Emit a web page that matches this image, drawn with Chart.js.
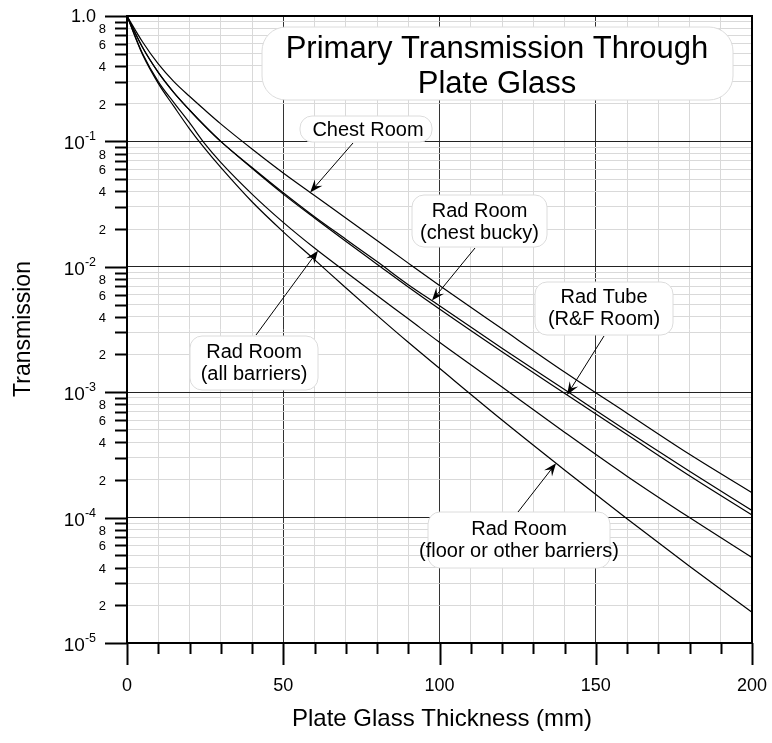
<!DOCTYPE html>
<html>
<head>
<meta charset="utf-8">
<title>Primary Transmission Through Plate Glass</title>
<script src="https://cdn.jsdelivr.net/npm/chart.js@4.4.1/dist/chart.umd.min.js"></script>
<style>
  html, body { margin: 0; padding: 0; background: #fff; }
  canvas { display: block; }
</style>
</head>
<body>
<canvas id="glassChart" width="772" height="743"></canvas>
<script>
// plate glass thickness (mm)
const thickness = [0, 5, 10, 15, 20, 25, 30, 40, 50, 60, 70, 80, 90, 100, 120, 140, 160, 180, 200];

// primary transmission per workload distribution
const chestRoom      = [1, 0.62, 0.415, 0.30, 0.229, 0.177, 0.138, 0.087, 0.056, 0.037, 0.0245, 0.0162, 0.0107, 0.0071, 0.0032, 0.00145, 0.00068, 0.00032, 0.000158];
const radChestBucky  = [1, 0.56, 0.355, 0.245, 0.178, 0.132, 0.100, 0.062, 0.039, 0.0251, 0.0166, 0.011, 0.0072, 0.0049, 0.00224, 0.00105, 0.00049, 0.000234, 0.000114];
const radTube        = [1, 0.56, 0.355, 0.245, 0.178, 0.132, 0.100, 0.061, 0.038, 0.0245, 0.016, 0.0105, 0.0069, 0.0046, 0.0021, 0.00098, 0.00046, 0.000216, 0.000105];
const radAllBarriers = [1, 0.50, 0.30, 0.204, 0.141, 0.095, 0.068, 0.038, 0.0226, 0.0141, 0.0091, 0.0059, 0.00385, 0.0025, 0.0011, 0.00048, 0.000214, 0.0001, 0.000048];
const radFloor       = [1, 0.49, 0.29, 0.19, 0.126, 0.087, 0.062, 0.033, 0.019, 0.0114, 0.0068, 0.0041, 0.0025, 0.00155, 0.0006, 0.00024, 0.000098, 0.000041, 0.0000176];

// axis ticks
const decadeTicks = [1, 1e-1, 1e-2, 1e-3, 1e-4, 1e-5];
const decadeLabels = ['1.0', '-1', '-2', '-3', '-4', '-5'];
const minorMantissas = [2, 3, 4, 5, 6, 7, 8, 9];
const minorLabels = [2, 4, 6, 8];
const xTickLabels = [0, 50, 100, 150, 200];

const FONT = '"Liberation Sans", Arial, Helvetica, sans-serif';

// every y grid value: decades plus 2..9 inside each decade
const yGridValues = [];
decadeTicks.forEach(d => {
  yGridValues.push(d);
  if (d < 1) minorMantissas.forEach(m => yGridValues.push(m * d));
});

function isDecade(v) {
  const l = Math.log10(v);
  return Math.abs(l - Math.round(l)) < 1e-9;
}

// transmission on a curve at a given thickness (log interpolation)
function valueAt(series, xv) {
  for (let i = 1; i < thickness.length; i++) {
    if (xv <= thickness[i]) {
      const t = (xv - thickness[i - 1]) / (thickness[i] - thickness[i - 1]);
      const a = Math.log10(series[i - 1]), b = Math.log10(series[i]);
      return Math.pow(10, a + t * (b - a));
    }
  }
  return series[series.length - 1];
}

// callout boxes: box [x0, y0, x1, y1], text centre x and first baseline, arrow start, arrow tip on a curve
const notes = [
  { lines: ['Chest Room'], box: [300, 116, 432, 142], tx: 368, ty: 135.5, from: [353, 143], tipX: 58.6, series: chestRoom },
  { lines: ['Rad Room', '(chest bucky)'], box: [412, 195, 547, 247], tx: 479.5, ty: 216.5, from: [475, 248], tipX: 97.6, series: radChestBucky },
  { lines: ['Rad Tube', '(R&F Room)'], box: [535, 282, 673, 335], tx: 604, ty: 303, from: [604, 336], tipX: 140.8, series: radTube },
  { lines: ['Rad Room', '(all barriers)'], box: [190, 336, 318, 390], tx: 254, ty: 358, from: [256, 335], tipX: 61.1, series: radAllBarriers },
  { lines: ['Rad Room', '(floor or other barriers)'], box: [428, 512, 610, 568], tx: 519, ty: 535, from: [518, 512], tipX: 137.3, series: radFloor }
];

function roundBox(ctx, x0, y0, x1, y1, r) {
  ctx.beginPath();
  ctx.moveTo(x0 + r, y0);
  ctx.lineTo(x1 - r, y0);
  ctx.arcTo(x1, y0, x1, y0 + r, r);
  ctx.lineTo(x1, y1 - r);
  ctx.arcTo(x1, y1, x1 - r, y1, r);
  ctx.lineTo(x0 + r, y1);
  ctx.arcTo(x0, y1, x0, y1 - r, r);
  ctx.lineTo(x0, y0 + r);
  ctx.arcTo(x0, y0, x0 + r, y0, r);
  ctx.closePath();
}

function arrow(ctx, fx, fy, tx, ty) {
  const ang = Math.atan2(ty - fy, tx - fx);
  ctx.beginPath();
  ctx.moveTo(fx, fy);
  ctx.lineTo(tx - Math.cos(ang) * 6, ty - Math.sin(ang) * 6);
  ctx.stroke();
  const len = 13, half = 5, notch = 8;
  const c = Math.cos(ang), s = Math.sin(ang);
  ctx.beginPath();
  ctx.moveTo(tx, ty);
  ctx.lineTo(tx - len * c - half * s, ty - len * s + half * c);
  ctx.lineTo(tx - notch * c, ty - notch * s);
  ctx.lineTo(tx - len * c + half * s, ty - len * s - half * c);
  ctx.closePath();
  ctx.fill();
}

const framePlugin = {
  id: 'frame',
  afterDraw(chart) {
    const { ctx, chartArea: { left, right, top, bottom }, scales: { x, y } } = chart;
    ctx.save();
    ctx.strokeStyle = '#000';
    ctx.fillStyle = '#000';

    // frame
    ctx.lineWidth = 2;
    ctx.strokeRect(left, top, right - left, bottom - top);

    // y ticks
    decadeTicks.forEach((d, i) => {
      const py = Math.round(y.getPixelForValue(d)) + 0.5;
      ctx.lineWidth = 2;
      ctx.beginPath(); ctx.moveTo(left - 22, py); ctx.lineTo(left, py); ctx.stroke();
      if (d < 1) {
        minorMantissas.forEach(m => {
          const my = Math.round(y.getPixelForValue(m * d)) + 0.5;
          ctx.beginPath(); ctx.moveTo(left - 12, my); ctx.lineTo(left, my); ctx.stroke();
          if (minorLabels.includes(m)) {
            ctx.font = '13px ' + FONT;
            ctx.textAlign = 'right';
            ctx.textBaseline = 'middle';
            ctx.fillText(String(m), left - 21, my + 1);
          }
        });
      }
      // decade label
      ctx.textBaseline = 'middle';
      if (i === 0) {
        ctx.font = '18px ' + FONT;
        ctx.textAlign = 'right';
        ctx.fillText(decadeLabels[i], left - 31, py + 1);
      } else {
        ctx.font = '12.5px ' + FONT;
        const supW = ctx.measureText(decadeLabels[i]).width;
        const rightEdge = left - 31;
        ctx.textAlign = 'left';
        ctx.fillText(decadeLabels[i], rightEdge - supW, py - 5);
        ctx.font = '19px ' + FONT;
        ctx.textAlign = 'right';
        ctx.fillText('10', rightEdge - supW, py + 2);
      }
    });

    // x ticks
    ctx.lineWidth = 2;
    for (let v = 0; v <= 200; v += 10) {
      const px = Math.round(x.getPixelForValue(v)) + 0.5;
      const len = v % 50 === 0 ? 22 : 11;
      ctx.beginPath(); ctx.moveTo(px, bottom); ctx.lineTo(px, bottom + len); ctx.stroke();
    }
    ctx.font = '18px ' + FONT;
    ctx.textAlign = 'center';
    ctx.textBaseline = 'middle';
    xTickLabels.forEach(v => ctx.fillText(String(v), x.getPixelForValue(v), 686));

    // axis titles
    ctx.font = '24px ' + FONT;
    ctx.fillText('Plate Glass Thickness (mm)', 442, 719);
    ctx.save();
    ctx.translate(24, 329);
    ctx.rotate(-Math.PI / 2);
    ctx.font = '23px ' + FONT;
    ctx.fillText('Transmission', 0, 0);
    ctx.restore();

    // title box
    roundBox(ctx, 262, 27, 733, 100, 24);
    ctx.fillStyle = '#fff';
    ctx.fill();
    ctx.strokeStyle = '#dcdcdc';
    ctx.lineWidth = 1;
    ctx.stroke();
    ctx.fillStyle = '#000';
    ctx.font = '31px ' + FONT;
    ctx.textAlign = 'center';
    ctx.textBaseline = 'alphabetic';
    ctx.fillText('Primary Transmission Through', 497, 57.5);
    ctx.fillText('Plate Glass', 497, 93);

    // callouts
    notes.forEach(n => {
      const [x0, y0, x1, y1] = n.box;
      roundBox(ctx, x0, y0, x1, y1, 12);
      ctx.fillStyle = '#fff';
      ctx.fill();
      ctx.strokeStyle = '#dcdcdc';
      ctx.lineWidth = 1;
      ctx.stroke();
      ctx.fillStyle = '#000';
      ctx.font = '20px ' + FONT;
      ctx.textAlign = 'center';
      ctx.textBaseline = 'alphabetic';
      n.lines.forEach((t, k) => ctx.fillText(t, n.tx, n.ty + k * 22));
      const tx = x.getPixelForValue(n.tipX);
      const ty = y.getPixelForValue(valueAt(n.series, n.tipX));
      ctx.strokeStyle = '#000';
      ctx.lineWidth = 1;
      arrow(ctx, n.from[0], n.from[1], tx, ty);
    });
    ctx.restore();
  }
};

const curve = series => thickness.map((t, i) => ({ x: t, y: series[i] }));

new Chart(document.getElementById('glassChart'), {
  type: 'line',
  data: {
    datasets: [
      { label: 'Chest Room', data: curve(chestRoom) },
      { label: 'Rad Room (chest bucky)', data: curve(radChestBucky) },
      { label: 'Rad Tube (R&F Room)', data: curve(radTube) },
      { label: 'Rad Room (all barriers)', data: curve(radAllBarriers) },
      { label: 'Rad Room (floor or other barriers)', data: curve(radFloor) }
    ]
  },
  options: {
    responsive: false,
    animation: false,
    layout: { padding: { left: 127, top: 16, right: 20, bottom: 100 } },
    plugins: { legend: { display: false }, tooltip: { enabled: false } },
    elements: {
      point: { radius: 0 },
      line: { borderWidth: 1.2, borderColor: '#000', cubicInterpolationMode: 'monotone', fill: false }
    },
    scales: {
      x: {
        type: 'linear', min: 0, max: 200,
        ticks: { display: false, stepSize: 10 },
        grid: { drawTicks: false, lineWidth: 1, color: c => (c.tick && c.tick.value % 50 === 0) ? '#333' : '#d9d9d9' },
        border: { display: false }
      },
      y: {
        type: 'logarithmic', min: 1e-5, max: 1,
        afterBuildTicks: scale => { scale.ticks = yGridValues.map(v => ({ value: v })); },
        ticks: { display: false },
        grid: { drawTicks: false, lineWidth: 1, color: c => (c.tick && isDecade(c.tick.value)) ? '#222' : '#d9d9d9' },
        border: { display: false }
      }
    }
  },
  plugins: [framePlugin]
});
</script>
</body>
</html>
